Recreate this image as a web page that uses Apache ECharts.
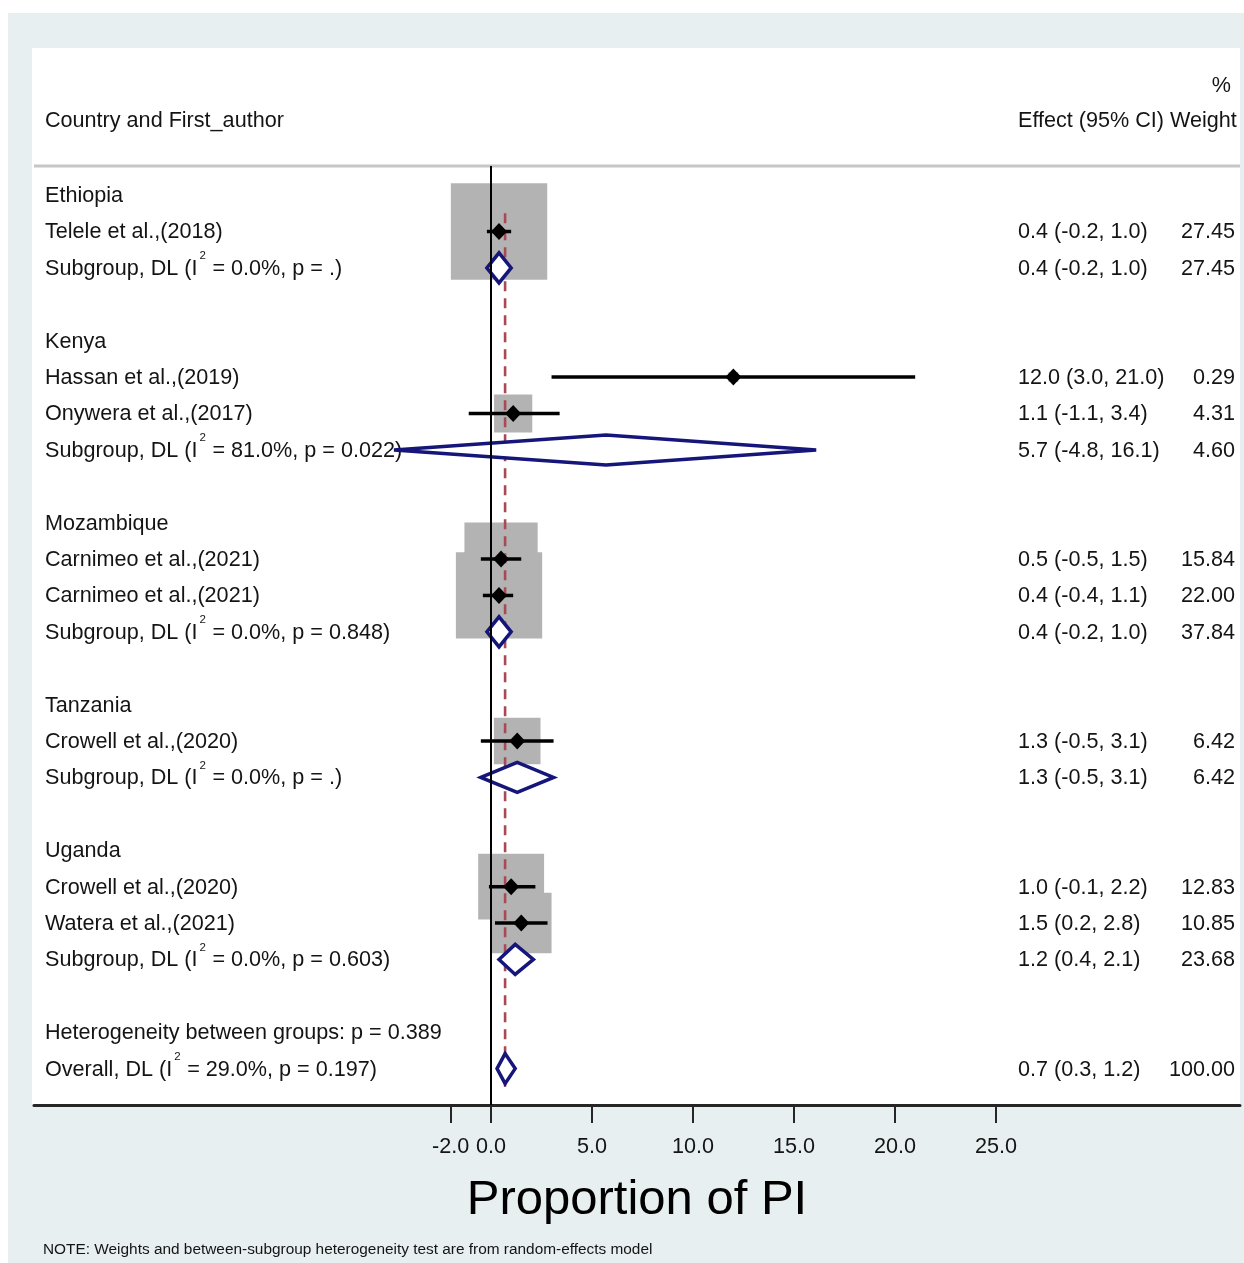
<!DOCTYPE html>
<html><head><meta charset="utf-8">
<script src="https://cdn.jsdelivr.net/npm/echarts@6/dist/echarts.min.js"></script>
<style>html,body{margin:0;padding:0;background:#fff}#c{width:1244px;height:1263px}</style>
</head><body><div id="c"></div>
<script>
// ---------- DATA ----------
const groupNames = ['Ethiopia', 'Kenya', 'Mozambique', 'Tanzania', 'Uganda'];
const groupRows = [0, 4, 9, 14, 18];

const studyNames = ['Telele et al.,(2018)', 'Hassan et al.,(2019)', 'Onywera et al.,(2017)',
  'Carnimeo et al.,(2021)', 'Carnimeo et al.,(2021)', 'Crowell et al.,(2020)',
  'Crowell et al.,(2020)', 'Watera et al.,(2021)'];
const studyRows = [1, 5, 6, 10, 11, 15, 19, 20];
const studyEst = [0.4, 12.0, 1.1, 0.5, 0.4, 1.3, 1.0, 1.5];
const studyLo = [-0.2, 3.0, -1.1, -0.5, -0.4, -0.5, -0.1, 0.2];
const studyHi = [1.0, 21.0, 3.4, 1.5, 1.1, 3.1, 2.2, 2.8];
const studyWeight = [27.45, 0.29, 4.31, 15.84, 22.00, 6.42, 12.83, 10.85];

const subRows = [2, 7, 12, 16, 21];
const subI2 = ['0.0', '81.0', '0.0', '0.0', '0.0'];
const subP = ['.', '0.022', '0.848', '.', '0.603'];
const subEst = [0.4, 5.7, 0.4, 1.3, 1.2];
const subLo = [-0.2, -4.8, -0.2, -0.5, 0.4];
const subHi = [1.0, 16.1, 1.0, 3.1, 2.1];
const subWeight = [27.45, 4.60, 37.84, 6.42, 23.68];

const hetRow = 23;
const hetP = '0.389';
const overallRow = 24;
const overallI2 = '29.0';
const overallP = '0.197';
const overallEst = 0.7, overallLo = 0.3, overallHi = 1.2, overallWeight = 100.00;

const xTicks = [-2, 0, 5, 10, 15, 20, 25];

// ---------- LAYOUT / STYLE ----------
const FONT = '"Liberation Sans", Arial, sans-serif';
const FS = 21.6;
const TXT = '#141414';
const LABEL_X = 45, EFFECT_X = 1018, WEIGHT_RIGHT = 1235;
const BOX_K = 18.4;
const DIA_H = 15;
const NAVY = '#15157a';
const Y_MIN = -0.8, Y_MAX = 25;

const mctx = document.createElement('canvas').getContext('2d');
mctx.font = FS + 'px ' + FONT;
const measure = s => mctx.measureText(s).width;

const fmtCI = (e, l, h) => `${e.toFixed(1)} (${l.toFixed(1)}, ${h.toFixed(1)})`;

// text rows
const textRows = [];
groupNames.forEach((g, i) => textRows.push({ row: groupRows[i], pre: g }));
studyNames.forEach((s, i) => textRows.push({
  row: studyRows[i], pre: s,
  effect: fmtCI(studyEst[i], studyLo[i], studyHi[i]), weight: studyWeight[i].toFixed(2)
}));
subRows.forEach((r, i) => textRows.push({
  row: r, pre: 'Subgroup, DL (I', sup: '2', post: ` = ${subI2[i]}%, p = ${subP[i]})`,
  effect: fmtCI(subEst[i], subLo[i], subHi[i]), weight: subWeight[i].toFixed(2)
}));
textRows.push({ row: hetRow, pre: `Heterogeneity between groups: p = ${hetP}` });
textRows.push({
  row: overallRow, pre: 'Overall, DL (I', sup: '2', post: ` = ${overallI2}%, p = ${overallP})`,
  effect: fmtCI(overallEst, overallLo, overallHi), weight: overallWeight.toFixed(2)
});

const txtStyle = (x, y, text, align) => ({
  type: 'text',
  style: { x, y, text, align: align || 'left', verticalAlign: 'middle', fill: TXT, fontSize: FS, fontFamily: FONT }
});

const diamondData = subRows.map((r, i) => [subEst[i], r, subLo[i], subHi[i]])
  .concat([[overallEst, overallRow, overallLo, overallHi]]);

const chart = echarts.init(document.getElementById('c'), null, { renderer: 'canvas' });
chart.setOption({
  backgroundColor: '#ffffff',
  animation: false,
  graphic: { elements: [
    { type: 'rect', z: -10, shape: { x: 8, y: 13, width: 1236, height: 1250 }, style: { fill: '#e8eff1' } },
    { type: 'rect', z: -9, shape: { x: 32, y: 48, width: 1208, height: 1056 }, style: { fill: '#ffffff' } },
    { type: 'line', z: -8, shape: { x1: 34, y1: 166, x2: 1240, y2: 166 }, style: { stroke: '#c6c6c6', lineWidth: 3 } },
    { type: 'text', style: { x: LABEL_X, y: 121, text: 'Country and First_author', verticalAlign: 'middle', fill: TXT, fontSize: FS, fontFamily: FONT } },
    { type: 'text', style: { x: EFFECT_X, y: 121, text: 'Effect (95% CI) Weight', verticalAlign: 'middle', fill: TXT, fontSize: FS, fontFamily: FONT } },
    { type: 'text', style: { x: 1231, y: 86, text: '%', align: 'right', verticalAlign: 'middle', fill: TXT, fontSize: FS, fontFamily: FONT } },
    { type: 'text', style: { x: 43, y: 1250, text: 'NOTE: Weights and between-subgroup heterogeneity test are from random-effects model', verticalAlign: 'middle', fill: TXT, fontSize: 15.4, fontFamily: FONT } }
  ] },
  grid: { left: 34, top: 166, width: 1206, height: 939, containLabel: false },
  xAxis: {
    type: 'value', min: -22.62, max: 37.08,
    splitLine: { show: false },
    axisLine: { show: true, onZero: false, lineStyle: { color: '#262626', width: 3 } },
    axisTick: { show: true, customValues: xTicks, length: 18, lineStyle: { color: '#262626', width: 2 } },
    axisLabel: { show: true, customValues: xTicks, formatter: v => Number(v).toFixed(1), margin: 31,
      color: TXT, fontSize: FS, fontFamily: FONT },
    name: 'Proportion of PI', nameLocation: 'middle', nameGap: 71,
    nameTextStyle: { fontSize: 49, fontFamily: FONT, color: '#000' }
  },
  yAxis: { type: 'value', inverse: true, min: Y_MIN, max: Y_MAX, show: false },
  series: [
    { // text columns
      type: 'custom', z: 1, silent: true, clip: false,
      data: textRows.map(t => [0, t.row]),
      renderItem: (params, api) => {
        const t = textRows[params.dataIndex];
        const y = api.coord([0, t.row])[1] + 1;
        const ch = [txtStyle(LABEL_X, y, t.pre)];
        if (t.sup) {
          const w = measure(t.pre);
          ch.push({ type: 'text', style: { x: LABEL_X + w + 2, y: y - 13, text: t.sup, verticalAlign: 'middle', fill: TXT, fontSize: 11.5, fontFamily: FONT } });
          ch.push(txtStyle(LABEL_X + w + 9, y, t.post));
        }
        if (t.effect) ch.push(txtStyle(EFFECT_X, y, t.effect));
        if (t.weight) ch.push(txtStyle(WEIGHT_RIGHT, y, t.weight, 'right'));
        return { type: 'group', children: ch };
      }
    },
    { // weight boxes
      type: 'custom', z: 2, silent: true, clip: false,
      data: studyEst.map((e, i) => [e, studyRows[i], studyWeight[i]]),
      renderItem: (params, api) => {
        const c = api.coord([api.value(0), api.value(1)]);
        const s = BOX_K * Math.sqrt(api.value(2));
        return { type: 'rect', shape: { x: c[0] - s / 2, y: c[1] - s / 2, width: s, height: s }, style: { fill: '#b3b3b3' } };
      }
    },
    { // overall dashed line
      type: 'line', z: 3, silent: true, symbol: 'none',
      data: [[overallEst, groupRows[0] + 0.5], [overallEst, overallRow + 0.5]],
      lineStyle: { color: '#a84a56', width: 2.6, type: [10, 7] }
    },
    { // pooled diamonds
      type: 'custom', z: 4, silent: true, clip: false,
      data: diamondData,
      renderItem: (params, api) => {
        const e = api.value(0), r = api.value(1);
        const cL = api.coord([api.value(2), r]), cC = api.coord([e, r]), cR = api.coord([api.value(3), r]);
        return { type: 'polygon', shape: { points: [[cL[0], cC[1]], [cC[0], cC[1] - DIA_H], [cR[0], cC[1]], [cC[0], cC[1] + DIA_H]] },
          style: { fill: '#ffffff', stroke: NAVY, lineWidth: 3.5 } };
      }
    },
    { // zero line
      type: 'line', z: 5, silent: true, data: [],
      markLine: { silent: true, symbol: 'none', label: { show: false },
        lineStyle: { color: '#000', width: 2, type: 'solid' }, data: [{ xAxis: 0 }] }
    },
    { // CI lines and markers
      type: 'custom', z: 6, silent: true, clip: false,
      data: studyEst.map((e, i) => [e, studyRows[i], studyLo[i], studyHi[i]]),
      renderItem: (params, api) => {
        const r = api.value(1);
        const cL = api.coord([api.value(2), r]), cC = api.coord([api.value(0), r]), cR = api.coord([api.value(3), r]);
        return { type: 'group', children: [
          { type: 'line', shape: { x1: cL[0], y1: cC[1], x2: cR[0], y2: cC[1] }, style: { stroke: '#000', lineWidth: 3.5 } },
          { type: 'polygon', shape: { points: [[cC[0] - 8, cC[1]], [cC[0], cC[1] - 8.5], [cC[0] + 8, cC[1]], [cC[0], cC[1] + 8.5]] }, style: { fill: '#000' } }
        ] };
      }
    }
  ]
});
</script></body></html>
